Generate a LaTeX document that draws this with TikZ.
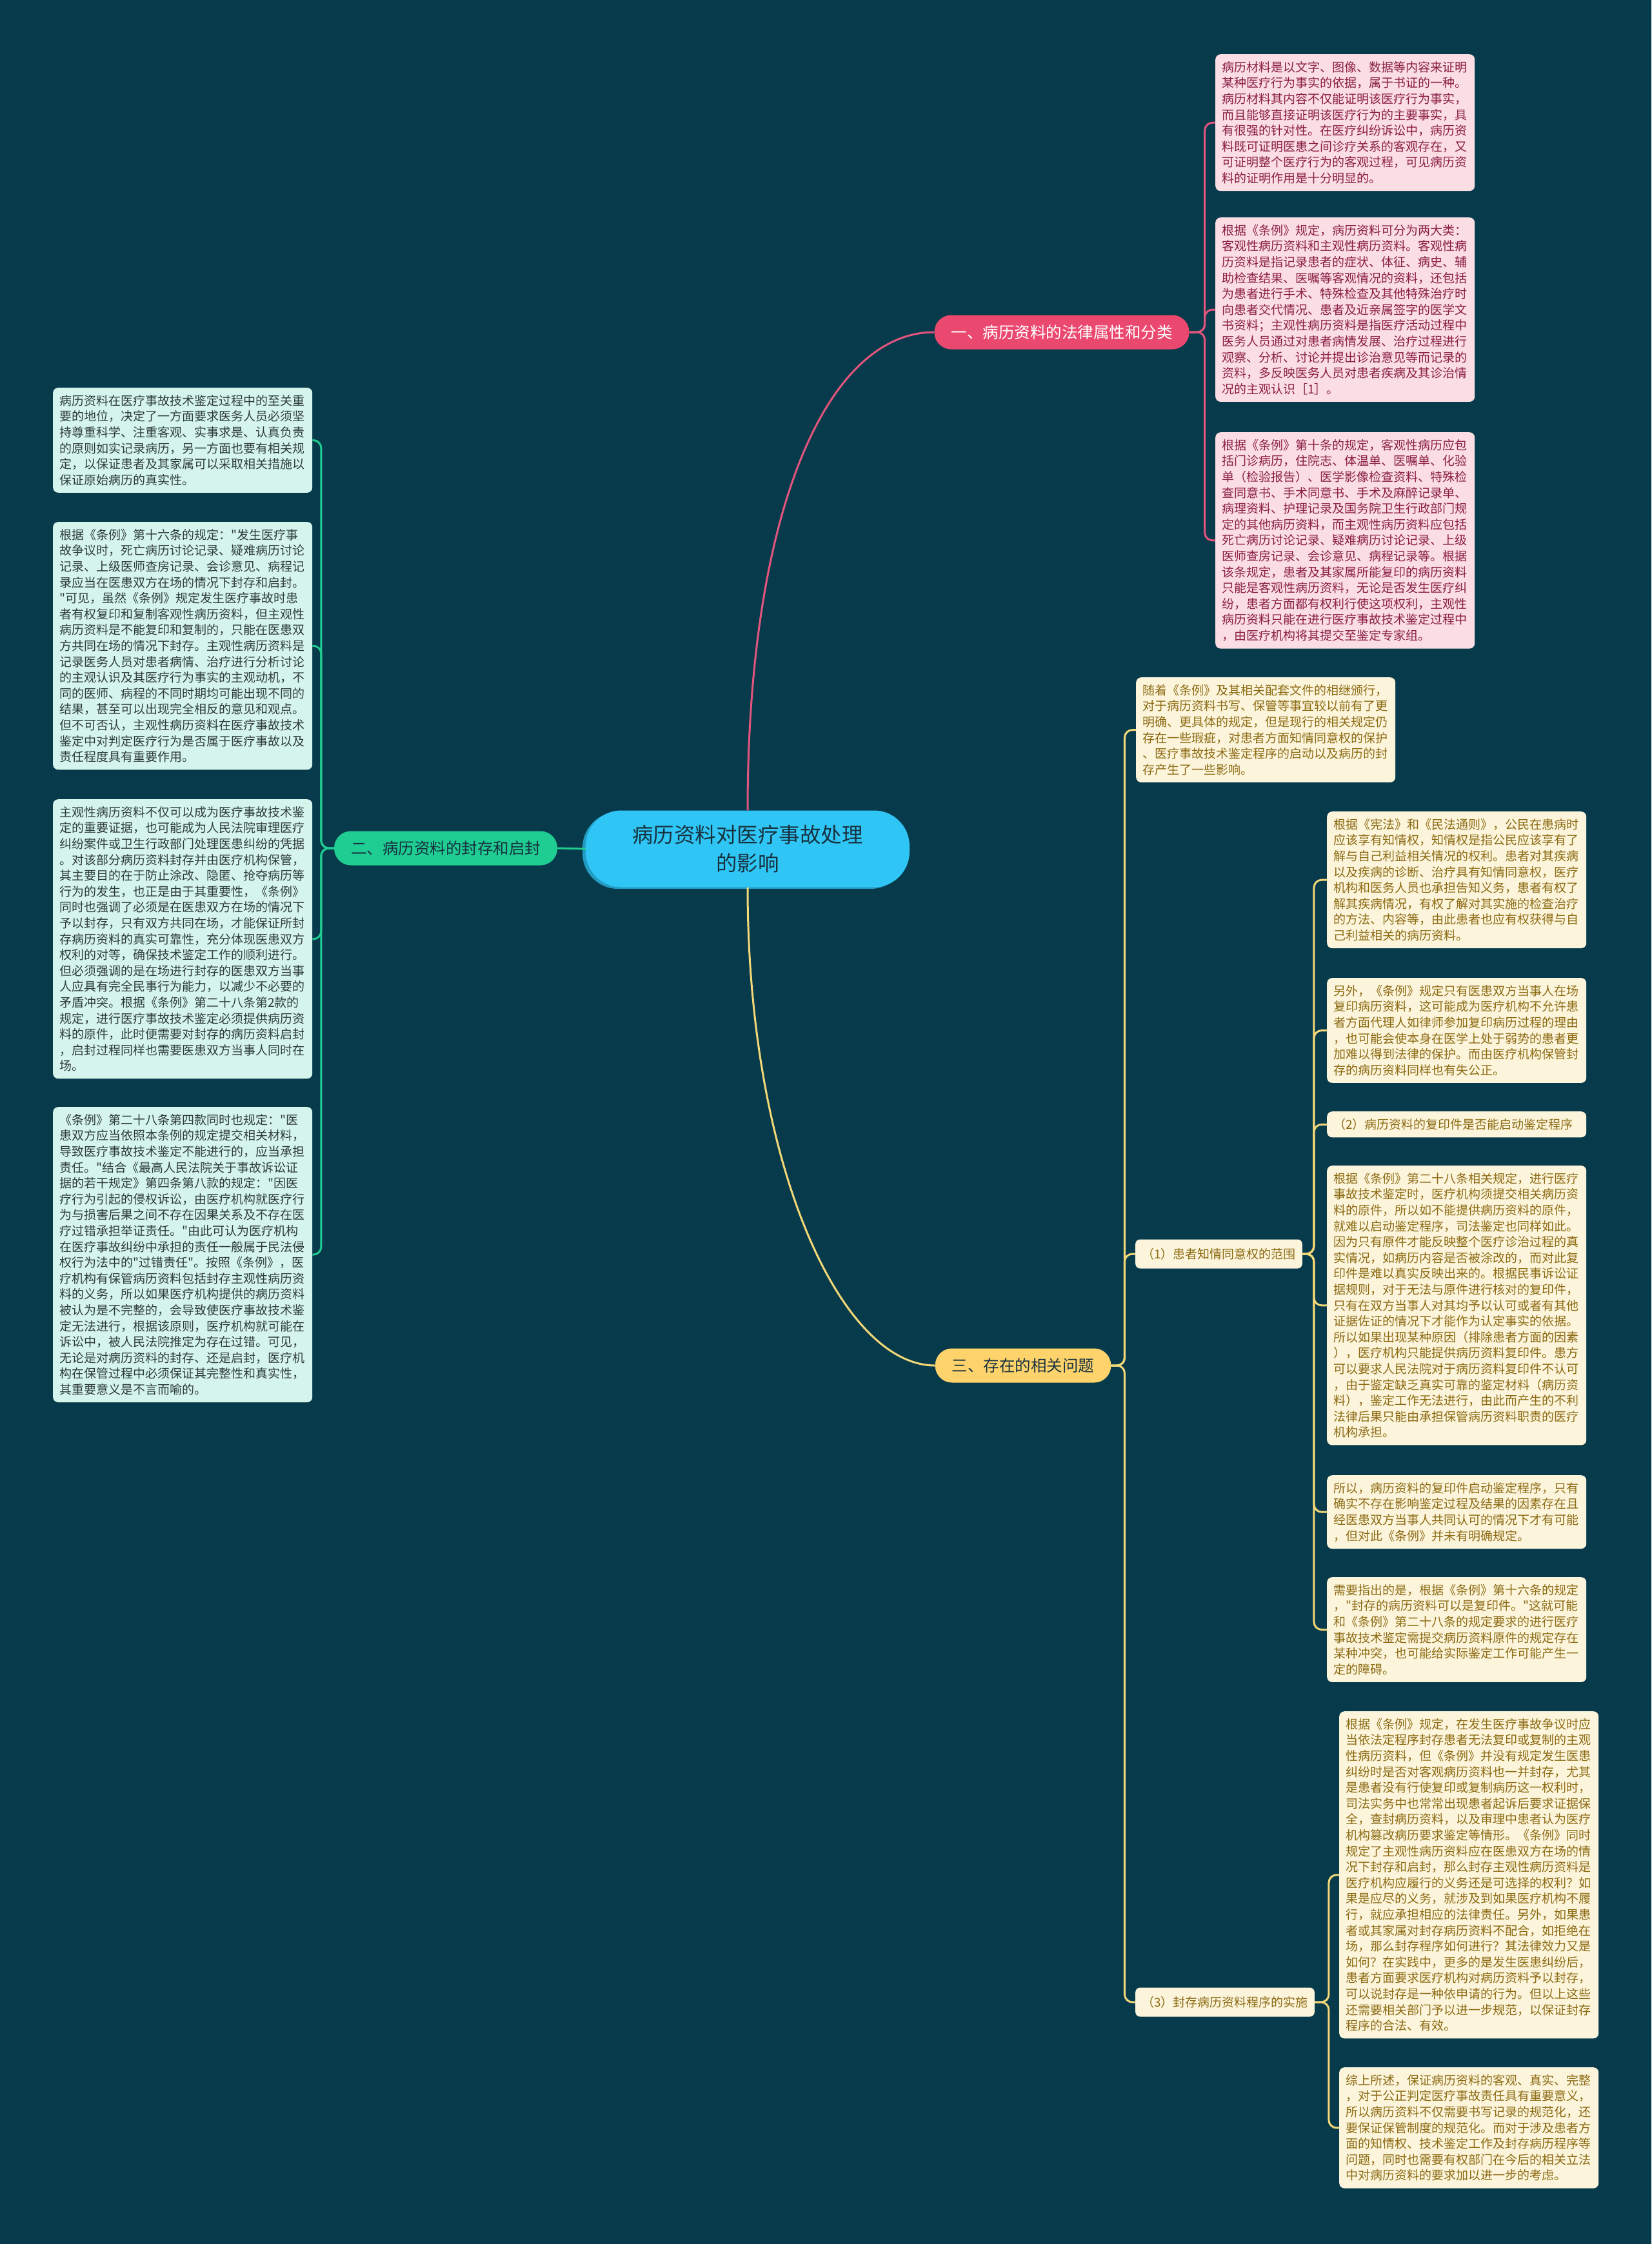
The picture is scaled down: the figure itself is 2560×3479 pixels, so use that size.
\documentclass[tikz,border=0pt]{standalone}
\usepackage{fontspec}
\setmainfont[Ligatures=TeXOff]{Noto Sans CJK SC}
\definecolor{bg}{HTML}{073A4B}
\definecolor{core}{HTML}{2FC6F6}
\definecolor{coretext}{HTML}{17323F}
\definecolor{rose}{HTML}{EB4870}
\definecolor{roseline}{HTML}{E2557D}
\definecolor{rosepale}{HTML}{FBDDE4}
\definecolor{rosetext}{HTML}{8A1F44}
\definecolor{mint}{HTML}{1FCC92}
\definecolor{mintpale}{HTML}{D5F5EC}
\definecolor{minttext}{HTML}{2E3B3B}
\definecolor{amber}{HTML}{FFD36B}
\definecolor{amberline}{HTML}{F3D878}
\definecolor{amberpale}{HTML}{FCF5DC}
\definecolor{ambertext}{HTML}{8C6A12}

\begin{document}
\begin{tikzpicture}[x=1pt,y=-1pt,
 leaf/.style={anchor=north west,rounded corners=8pt,inner xsep=10pt,inner ysep=11pt,
  text width=382pt,align=left,font=\fontsize{19}{24.6}\selectfont},
 branch/.style={rounded corners=26pt,minimum height=53pt,inner xsep=26pt,
  font=\fontsize{24.5}{30}\selectfont},
 tag/.style={anchor=west,rounded corners=7pt,fill=amberpale,text=ambertext,
  minimum height=45pt,inner xsep=10pt,font=\fontsize{19}{24}\selectfont},
 link/.style={line width=3pt,rounded corners=12pt}]
\useasboundingbox (0,0) rectangle (2560,3479);
\fill[bg] (0,0) rectangle (2560,3479);

% centre and main branches
\fill[core!70!bg,rounded corners=55pt] (903,1259) rectangle (1405,1378);
\node[fill=core,text=coretext,rounded corners=55pt,minimum width=502pt,minimum height=119pt,
 align=center,font=\fontsize{32.5}{44}\selectfont] (root) at (1159,1316) {病历资料对医疗事故处理\\的影响};
\node[branch,fill=rose,text=white] (law) at (1646,515) {一、病历资料的法律属性和分类};
\node[branch,fill=mint,text=coretext] (seal) at (691,1315) {二、病历资料的封存和启封};
\node[branch,fill=amber,text=coretext] (issue) at (1586,2117) {三、存在的相关问题};

% branch one
\begin{scope}[every node/.style={leaf,fill=rosepale,text=rosetext}]
\node (law1) at (1884,84) {病历材料是以文字、图像、数据等内容来证明\\某种医疗行为事实的依据，属于书证的一种。\\病历材料其内容不仅能证明该医疗行为事实，\\而且能够直接证明该医疗行为的主要事实，具\\有很强的针对性。在医疗纠纷诉讼中，病历资\\料既可证明医患之间诊疗关系的客观存在，又\\可证明整个医疗行为的客观过程，可见病历资\\料的证明作用是十分明显的。};
\node (law2) at (1884,337) {根据《条例》规定，病历资料可分为两大类：\\客观性病历资料和主观性病历资料。客观性病\\历资料是指记录患者的症状、体征、病史、辅\\助检查结果、医嘱等客观情况的资料，还包括\\为患者进行手术、特殊检查及其他特殊治疗时\\向患者交代情况、患者及近亲属签字的医学文\\书资料；主观性病历资料是指医疗活动过程中\\医务人员通过对患者病情发展、治疗过程进行\\观察、分析、讨论并提出诊治意见等而记录的\\资料，多反映医务人员对患者疾病及其诊治情\\况的主观认识［1］。};
\node (law3) at (1884,670) {根据《条例》第十条的规定，客观性病历应包\\括门诊病历，住院志、体温单、医嘱单、化验\\单（检验报告）、医学影像检查资料、特殊检\\查同意书、手术同意书、手术及麻醉记录单、\\病理资料、护理记录及国务院卫生行政部门规\\定的其他病历资料，而主观性病历资料应包括\\死亡病历讨论记录、疑难病历讨论记录、上级\\医师查房记录、会诊意见、病程记录等。根据\\该条规定，患者及其家属所能复印的病历资料\\只能是客观性病历资料，无论是否发生医疗纠\\纷，患者方面都有权利行使这项权利，主观性\\病历资料只能在进行医疗事故技术鉴定过程中\\，由医疗机构将其提交至鉴定专家组。};
\end{scope}

% branch two
\begin{scope}[every node/.style={leaf,fill=mintpale,text=minttext}]
\node (seal1) at (82,601) {病历资料在医疗事故技术鉴定过程中的至关重\\要的地位，决定了一方面要求医务人员必须坚\\持尊重科学、注重客观、实事求是、认真负责\\的原则如实记录病历，另一方面也要有相关规\\定，以保证患者及其家属可以采取相关措施以\\保证原始病历的真实性。};
\node (seal2) at (82,809) {根据《条例》第十六条的规定："发生医疗事\\故争议时，死亡病历讨论记录、疑难病历讨论\\记录、上级医师查房记录、会诊意见、病程记\\录应当在医患双方在场的情况下封存和启封。\\"可见，虽然《条例》规定发生医疗事故时患\\者有权复印和复制客观性病历资料，但主观性\\病历资料是不能复印和复制的，只能在医患双\\方共同在场的情况下封存。主观性病历资料是\\记录医务人员对患者病情、治疗进行分析讨论\\的主观认识及其医疗行为事实的主观动机，不\\同的医师、病程的不同时期均可能出现不同的\\结果，甚至可以出现完全相反的意见和观点。\\但不可否认，主观性病历资料在医疗事故技术\\鉴定中对判定医疗行为是否属于医疗事故以及\\责任程度具有重要作用。};
\node (seal3) at (82,1239) {主观性病历资料不仅可以成为医疗事故技术鉴\\定的重要证据，也可能成为人民法院审理医疗\\纠纷案件或卫生行政部门处理医患纠纷的凭据\\。对该部分病历资料封存并由医疗机构保管，\\其主要目的在于防止涂改、隐匿、抢夺病历等\\行为的发生，也正是由于其重要性，《条例》\\同时也强调了必须是在医患双方在场的情况下\\予以封存，只有双方共同在场，才能保证所封\\存病历资料的真实可靠性，充分体现医患双方\\权利的对等，确保技术鉴定工作的顺利进行。\\但必须强调的是在场进行封存的医患双方当事\\人应具有完全民事行为能力，以减少不必要的\\矛盾冲突。根据《条例》第二十八条第2款的\\规定，进行医疗事故技术鉴定必须提供病历资\\料的原件，此时便需要对封存的病历资料启封\\，启封过程同样也需要医患双方当事人同时在\\场。};
\node (seal4) at (82,1716) {《条例》第二十八条第四款同时也规定："医\\患双方应当依照本条例的规定提交相关材料，\\导致医疗事故技术鉴定不能进行的，应当承担\\责任。"结合《最高人民法院关于事故诉讼证\\据的若干规定》第四条第八款的规定："因医\\疗行为引起的侵权诉讼，由医疗机构就医疗行\\为与损害后果之间不存在因果关系及不存在医\\疗过错承担举证责任。"由此可认为医疗机构\\在医疗事故纠纷中承担的责任一般属于民法侵\\权行为法中的"过错责任"。按照《条例》，医\\疗机构有保管病历资料包括封存主观性病历资\\料的义务，所以如果医疗机构提供的病历资料\\被认为是不完整的，会导致使医疗事故技术鉴\\定无法进行，根据该原则，医疗机构就可能在\\诉讼中，被人民法院推定为存在过错。可见，\\无论是对病历资料的封存、还是启封，医疗机\\构在保管过程中必须保证其完整性和真实性，\\其重要意义是不言而喻的。};
\end{scope}

% branch three
\node[tag] (consent) at (1760,1944) {（1）患者知情同意权的范围};
\node[tag] (sealing) at (1760,3104) {（3）封存病历资料程序的实施};
\begin{scope}[every node/.style={leaf,fill=amberpale,text=ambertext}]
\node (issue0) at (1761,1050) {随着《条例》及其相关配套文件的相继颁行，\\对于病历资料书写、保管等事宜较以前有了更\\明确、更具体的规定，但是现行的相关规定仍\\存在一些瑕疵，对患者方面知情同意权的保护\\、医疗事故技术鉴定程序的启动以及病历的封\\存产生了一些影响。};
\node (consent1) at (2057,1258) {根据《宪法》和《民法通则》，公民在患病时\\应该享有知情权，知情权是指公民应该享有了\\解与自己利益相关情况的权利。患者对其疾病\\以及疾病的诊断、治疗具有知情同意权，医疗\\机构和医务人员也承担告知义务，患者有权了\\解其疾病情况，有权了解对其实施的检查治疗\\的方法、内容等，由此患者也应有权获得与自\\己利益相关的病历资料。};
\node (consent2) at (2057,1516) {另外，《条例》规定只有医患双方当事人在场\\复印病历资料，这可能成为医疗机构不允许患\\者方面代理人如律师参加复印病历过程的理由\\，也可能会使本身在医学上处于弱势的患者更\\加难以得到法律的保护。而由医疗机构保管封\\存的病历资料同样也有失公正。};
\node (consent3) at (2057,1723) {（2）病历资料的复印件是否能启动鉴定程序};
\node (consent4) at (2057,1807) {根据《条例》第二十八条相关规定，进行医疗\\事故技术鉴定时，医疗机构须提交相关病历资\\料的原件，所以如不能提供病历资料的原件，\\就难以启动鉴定程序，司法鉴定也同样如此。\\因为只有原件才能反映整个医疗诊治过程的真\\实情况，如病历内容是否被涂改的，而对此复\\印件是难以真实反映出来的。根据民事诉讼证\\据规则，对于无法与原件进行核对的复印件，\\只有在双方当事人对其均予以认可或者有其他\\证据佐证的情况下才能作为认定事实的依据。\\所以如果出现某种原因（排除患者方面的因素\\），医疗机构只能提供病历资料复印件。患方\\可以要求人民法院对于病历资料复印件不认可\\，由于鉴定缺乏真实可靠的鉴定材料（病历资\\料），鉴定工作无法进行，由此而产生的不利\\法律后果只能由承担保管病历资料职责的医疗\\机构承担。};
\node (consent5) at (2057,2287) {所以，病历资料的复印件启动鉴定程序，只有\\确实不存在影响鉴定过程及结果的因素存在且\\经医患双方当事人共同认可的情况下才有可能\\，但对此《条例》并未有明确规定。};
\node (consent6) at (2057,2445) {需要指出的是，根据《条例》第十六条的规定\\，"封存的病历资料可以是复印件。"这就可能\\和《条例》第二十八条的规定要求的进行医疗\\事故技术鉴定需提交病历资料原件的规定存在\\某种冲突，也可能给实际鉴定工作可能产生一\\定的障碍。};
\node (sealing1) at (2076,2653) {根据《条例》规定，在发生医疗事故争议时应\\当依法定程序封存患者无法复印或复制的主观\\性病历资料，但《条例》并没有规定发生医患\\纠纷时是否对客观病历资料也一并封存，尤其\\是患者没有行使复印或复制病历这一权利时，\\司法实务中也常常出现患者起诉后要求证据保\\全，查封病历资料，以及审理中患者认为医疗\\机构篡改病历要求鉴定等情形。《条例》同时\\规定了主观性病历资料应在医患双方在场的情\\况下封存和启封，那么封存主观性病历资料是\\医疗机构应履行的义务还是可选择的权利？如\\果是应尽的义务，就涉及到如果医疗机构不履\\行，就应承担相应的法律责任。另外，如果患\\者或其家属对封存病历资料不配合，如拒绝在\\场，那么封存程序如何进行？其法律效力又是\\如何？在实践中，更多的是发生医患纠纷后，\\患者方面要求医疗机构对病历资料予以封存，\\可以说封存是一种依申请的行为。但以上这些\\还需要相关部门予以进一步规范，以保证封存\\程序的合法、有效。};
\node (sealing2) at (2076,3205) {综上所述，保证病历资料的客观、真实、完整\\，对于公正判定医疗事故责任具有重要意义，\\所以病历资料不仅需要书写记录的规范化，还\\要保证保管制度的规范化。而对于涉及患者方\\面的知情权、技术鉴定工作及封存病历程序等\\问题，同时也需要有权部门在今后的相关立法\\中对病历资料的要求加以进一步的考虑。};
\end{scope}

% connectors
\draw[link,roseline] (root.north) .. controls +(0,-459) and +(-168,0) .. (law.west);
\foreach \n in {law1,law2,law3}
 \draw[link,roseline] (law.east) -- ++(24,0) |- (\n.west);
\draw[link,mint] (root.west) -- (seal.east);
\foreach \n in {seal1,seal2,seal3,seal4}
 \draw[link,mint] (seal.west) -- ++(-20,0) |- (\n.east);
\draw[link,amberline] (root.south) .. controls +(0,424) and +(-148,0) .. (issue.west);
\foreach \n in {issue0,consent,sealing}
 \draw[link,amberline] (issue.east) -- ++(21,0) |- (\n.west);
\foreach \n in {consent1,consent2,consent3,consent4,consent5,consent6}
 \draw[link,amberline] (consent.east) -- ++(18,0) |- (\n.west);
\foreach \n in {sealing1,sealing2}
 \draw[link,amberline] (sealing.east) -- ++(22,0) |- (\n.west);
\end{tikzpicture}
\end{document}
